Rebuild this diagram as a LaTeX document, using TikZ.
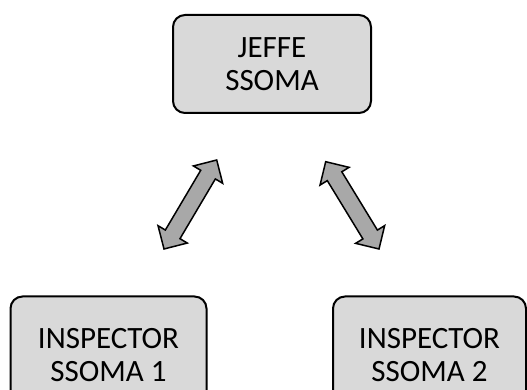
\documentclass[tikz,border=0pt]{standalone}
\usepackage{fontspec}
\setmainfont{Carlito}
\usetikzlibrary{calc}
\definecolor{boxgray}{HTML}{D9D9D9}
\definecolor{arrgray}{HTML}{A8A8A8}
\tikzset{
  box/.style={draw=black, line width=2pt, fill=boxgray, rounded corners=12pt,
    align=center, inner sep=0pt, font=\fontsize{31}{33.5}\selectfont},
  arrstyle/.style={draw=black, line width=1.5pt, fill=arrgray, line join=miter}
}
\newcommand\mydblarrow[2]{%
  \coordinate (#1h) at ($(#1)!17pt!(#2)$);
  \coordinate (#2h) at ($(#2)!17pt!(#1)$);
  \draw[arrstyle] (#1) -- ($(#1h)!17pt!90:(#2)$) -- ($(#1h)!8.5pt!90:(#2)$)
    -- ($(#2h)!8.5pt!-90:(#1)$) -- ($(#2h)!17pt!-90:(#1)$) -- (#2)
    -- ($(#2h)!17pt!90:(#1)$) -- ($(#2h)!8.5pt!90:(#1)$)
    -- ($(#1h)!8.5pt!-90:(#2)$) -- ($(#1h)!17pt!-90:(#2)$) -- cycle;}
\begin{document}
\begin{tikzpicture}[x=1pt,y=1pt]
\useasboundingbox (0,0) rectangle (527,390);
\clip (0,0) rectangle (527,390);
\node[box, minimum width=198pt, minimum height=98pt] (jefe) at (272,326) {JEFFE\\SSOMA};
\node[box, minimum width=196pt, minimum height=117pt] (insp1) at (108.5,35) {INSPECTOR\\SSOMA 1};
\node[box, minimum width=193pt, minimum height=117pt] (insp2) at (429.5,35) {INSPECTOR\\SSOMA 2};
\coordinate (la) at (164,141);
\coordinate (lb) at (216.7,230);
\coordinate (ra) at (325.7,228.3);
\coordinate (rb) at (379,141);
\mydblarrow{la}{lb}
\mydblarrow{ra}{rb}
\end{tikzpicture}
\end{document}
